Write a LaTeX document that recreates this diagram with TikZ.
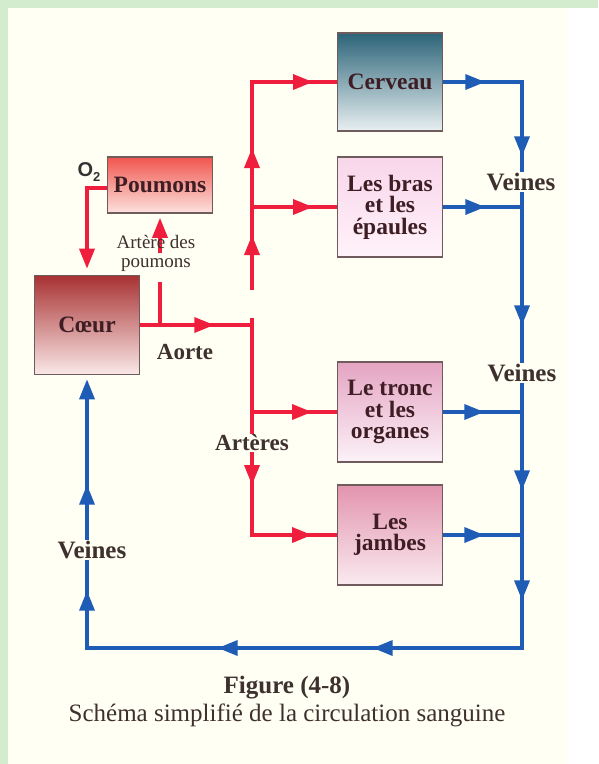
\documentclass[tikz,border=0pt]{standalone}
\usepackage{fontspec}
\setmainfont{Liberation Serif}
\newfontfamily\osans{Liberation Sans}
\definecolor{bggreen}{RGB}{212,236,206}
\definecolor{cream}{RGB}{255,255,243}
\definecolor{artred}{RGB}{238,30,60}
\definecolor{veinblue}{RGB}{30,92,182}
\definecolor{boxline}{RGB}{112,92,92}
\definecolor{inktxt}{RGB}{62,30,36}
\definecolor{labtxt}{RGB}{62,48,46}
\usetikzlibrary{arrows.meta,decorations.markings}

\begin{document}
\begin{tikzpicture}[x=1pt,y=-1pt,
    vtip/.tip={Triangle[length=20pt,width=15pt]},
    organ/.style={draw=boxline,line width=1.6pt,minimum width=105pt,minimum height=100pt,
      align=center,inner sep=2pt,text=inktxt,font=\bfseries\fontsize{23.5}{21.5}\selectfont},
    artery/.style={artred,line width=3.5pt},
    vein/.style={veinblue,line width=3.5pt},
    tipat/.style={postaction={decorate,decoration={markings,mark=at position #1 with {\arrow{vtip}}}}},
    lbl/.style={fill=cream,inner sep=1pt,text=labtxt,font=\bfseries\fontsize{23}{23}\selectfont}]
  \fill[bggreen] (0,0) rectangle (598,764);
  \fill[cream] (8,8) rectangle (598,764);
  \fill[white] (567,8) rectangle (598,764);

  \node[organ,top color={rgb,255:red,44;green,100;blue,120},bottom color={rgb,255:red,232;green,240;blue,242},minimum height=98pt] (cerveau) at (390,82) {Cerveau};
  \node[organ,top color={rgb,255:red,248;green,214;blue,234},bottom color={rgb,255:red,255;green,242;blue,250}] (bras) at (390,207) {Les bras\\et les\\épaules};
  \node[organ,top color={rgb,255:red,228;green,164;blue,194},bottom color={rgb,255:red,252;green,242;blue,248}] (tronc) at (390,412) {Le tronc\\et les\\organes};
  \node[organ,top color={rgb,255:red,226;green,148;blue,174},bottom color={rgb,255:red,250;green,234;blue,240}] (jambes) at (390,535) {Les\\jambes};
  \node[organ,top color={rgb,255:red,240;green,86;blue,78},bottom color={rgb,255:red,252;green,226;blue,222},minimum height=56pt] (poumons) at (160,185) {Poumons};
  \node[organ,top color={rgb,255:red,168;green,50;blue,50},bottom color={rgb,255:red,250;green,232;blue,232},minimum height=99pt] (coeur) at (87,325) {Cœur};

  \coordinate (ug) at (252,290);
  \coordinate (lg) at (252,318);
  \coordinate (pg) at (160,282);
  \coordinate (pl) at (160,253);
  \coordinate (vc) at (522,648);

  \draw[artery,tipat=74pt] (coeur.east) -- (lg |- coeur.east);
  \draw[artery] (pg |- coeur.east) -- (pg);
  \draw[artery,-{vtip},shorten >=4pt] (pl) -- (poumons.south);
  \draw[artery,-{vtip},shorten >=6pt] ([yshift=-3pt]poumons.west) -| (coeur.north);
  \draw[artery,tipat=55pt,tipat=142pt,tipat=269pt] (ug) |- (cerveau.west);
  \draw[artery,tipat=61pt] (ug |- bras.west) -- (bras.west);
  \draw[artery,tipat=167pt,tipat=277pt] (lg) |- (jambes.west);
  \draw[artery,tipat=60pt] (lg |- tronc.west) -- (tronc.west);

  \draw[vein,tipat=42pt,tipat=153pt,tipat=322pt,tipat=487pt,tipat=597pt,tipat=794pt,tipat=949pt,tipat=1137pt,tipat=1243pt,-{vtip},shorten >=4pt]
    (cerveau.east) -| (vc) -| (coeur.south);
  \draw[vein,tipat=42pt] (bras.east) -- (vc |- bras.east);
  \draw[vein,tipat=41pt] (tronc.east) -- (vc |- tronc.east);
  \draw[vein,tipat=41pt] (jambes.east) -- (vc |- jambes.east);

  \node[lbl,font=\bfseries\fontsize{25}{25}\selectfont] (veines1) at (521,182) {Veines};
  \node[lbl,font=\bfseries\fontsize{25}{25}\selectfont] (veines2) at (522,373) {Veines};
  \node[lbl,font=\bfseries\fontsize{25}{25}\selectfont] (veines3) at (92,550) {Veines};
  \node[lbl] (arteres) at (252,443) {Artères};
  \node[lbl,fill=none] (aorte) at (185,352) {Aorte};
  \node[text=labtxt,align=center,font=\fontsize{19}{19}\selectfont] (artpoum) at (156,253) {Artère des\\poumons};
  \node[text=black!80,font=\osans\bfseries\fontsize{20}{20}\selectfont] (oxy) at (89,172) {O\raisebox{-5pt}{\fontsize{13}{13}\selectfont 2}};

  \node[text=labtxt,font=\bfseries\fontsize{25}{25}\selectfont] (fig) at (287,688) {Figure (4-8)};
  \node[text=labtxt,font=\fontsize{25}{25}\selectfont] (legende) at (287,715) {Schéma simplifié de la circulation sanguine};
\end{tikzpicture}
\end{document}
